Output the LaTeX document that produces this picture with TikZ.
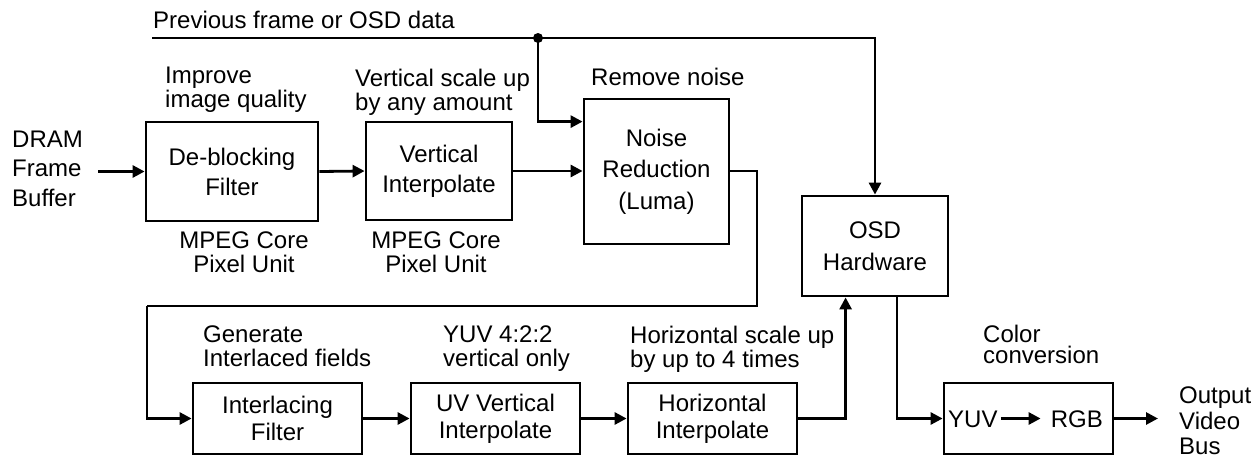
\documentclass[tikz,border=0pt]{standalone}
\usepackage{fontspec}
\setmainfont{Liberation Sans}
\usetikzlibrary{arrows.meta,calc}
\begin{document}
\begin{tikzpicture}[x=1pt,y=-1pt,
  every node/.style={inner sep=0pt},
  blk/.style={draw, line width=2.8pt, align=center, font=\fontsize{24}{30}\selectfont},
  txt/.style={align=center, font=\fontsize{24}{30}\selectfont},
  lbl/.style={align=left, anchor=north west, font=\fontsize{24}{24}\selectfont},
  arr/.style={line width=2.8pt, -{Triangle[length=12pt,width=12pt]}},
  ln/.style={line width=2.8pt}]
\useasboundingbox[fill=white] (0,0) rectangle (1254,459);

% boxes
\node[blk, minimum width=172pt, minimum height=99pt] (deblock) at (232,171.5) {De-blocking\\Filter};
\node[blk, minimum width=146pt, minimum height=98pt] (vint) at (439,171) {Vertical\\Interpolate};
\node[blk, font=\fontsize{24}{31.5}\selectfont, minimum width=145pt, minimum height=145pt] (noise) at (656.5,171.5) {Noise\\Reduction\\(Luma)};
\node[blk, font=\fontsize{24}{32}\selectfont, minimum width=146pt, minimum height=100pt] (osd) at (875,246) {OSD\\Hardware};
\node[blk, font=\fontsize{24}{27}\selectfont, minimum width=169pt, minimum height=71pt] (inter) at (277.5,418.5) {Interlacing\\Filter};
\node[blk, font=\fontsize{24}{27}\selectfont, minimum width=169pt, minimum height=71pt] (uv) at (495.5,418.5) {UV Vertical\\Interpolate};
\node[blk, font=\fontsize{24}{27}\selectfont, minimum width=169pt, minimum height=71pt] (horiz) at (712.5,418.5) {Horizontal\\Interpolate};
\node[blk, minimum width=169pt, minimum height=71pt] (yuvbox) at (1028.5,418.5) {};
\node[txt, anchor=base west] (yuv) at (948,427) {YUV};
\node[txt, anchor=base east] (rgb) at (1103,427) {RGB};

% labels
\node[lbl, font=\fontsize{24}{29.5}\selectfont] (dram) at (12,130.7) {DRAM\\Frame\\Buffer};
\node[lbl] (prev) at (153,10.7) {Previous frame or OSD data};
\node[lbl] (improve) at (165,66.7) {Improve\\image quality};
\node[lbl] (vscale) at (355,68.7) {Vertical scale up\\by any amount};
\node[lbl] (remove) at (591,67.7) {Remove noise};
\node[lbl, align=center, anchor=north, font=\fontsize{24}{24}\selectfont] (mpeg1) at (244,231.7) {MPEG Core\\Pixel Unit};
\node[lbl, align=center, anchor=north, font=\fontsize{24}{24}\selectfont] (mpeg2) at (436,231.7) {MPEG Core\\Pixel Unit};
\node[lbl] (gen) at (203,325.7) {Generate\\Interlaced fields};
\node[lbl] (yuvlbl) at (443,325.7) {YUV 4:2:2\\vertical only};
\node[lbl] (hscale) at (630,325.7) {Horizontal scale up\\by up to 4 times};
\node[lbl, font=\fontsize{24}{21.5}\selectfont] (color) at (983,324.7) {Color\\conversion};
\node[lbl, font=\fontsize{24}{25.5}\selectfont] (output) at (1179,386.7) {Output\\Video\\Bus};

% coordinates
\coordinate (prevstart) at (152,38);
\coordinate (junc) at (538,38);
\coordinate (loopA) at (757,306);
\coordinate (loopB) at (147,306);

% connectors
\draw[ln] (prevstart) -- (junc);
\draw[arr] (junc) -| (osd.north);
\fill (junc) circle (5);
\draw[arr] (junc) |- ([yshift=-24pt]noise.north west);
\draw[arr] ([xshift=15pt]dram.east |- deblock.west) -- (deblock.west);
\draw[arr] (deblock.east) -- (vint.west);
\draw[arr] (vint.east) -- (vint.east -| noise.west);
\draw[ln] (noise.east |- vint.east) -| (loopA) -- (loopB);
\draw[arr] (loopB) |- (inter.west);
\draw[arr] (inter.east) -- (uv.west);
\draw[arr] (uv.east) -- (horiz.west);
\draw[arr] (horiz.east) -| ([xshift=45pt]osd.south west);
\draw[arr] ([xshift=22pt]osd.south) |- (yuvbox.west);
\draw[arr] ([xshift=3pt]yuv.east |- yuvbox.west) -- ([xshift=-10pt]rgb.west |- yuvbox.west);
\draw[arr] (yuvbox.east) -- ([xshift=-21pt]output.west |- yuvbox.east);
\end{tikzpicture}
\end{document}
